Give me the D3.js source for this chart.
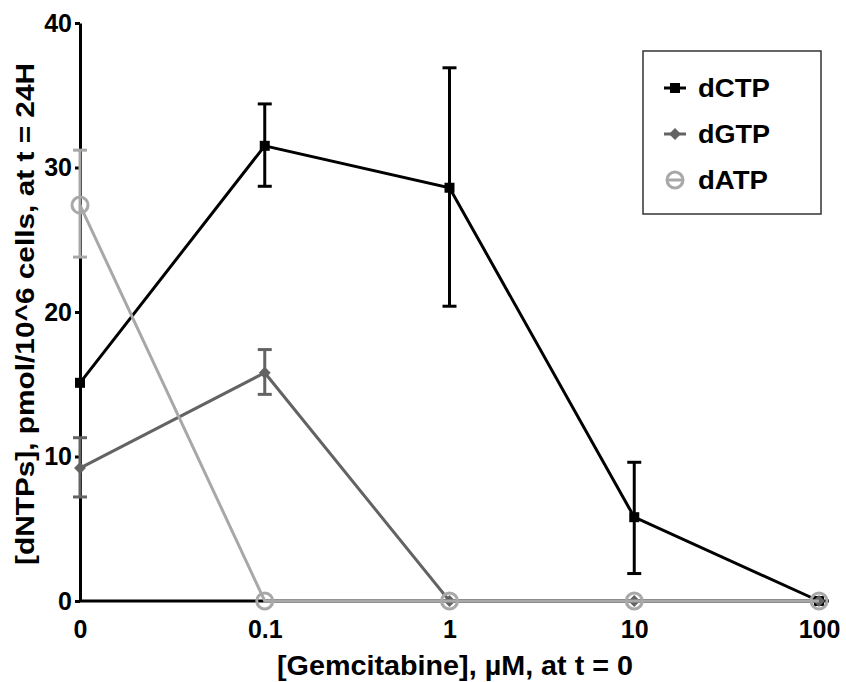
<!DOCTYPE html>
<html>
<head>
<meta charset="utf-8">
<script src="https://cdn.jsdelivr.net/npm/d3@7"></script>
<style>
  body { margin: 0; background: #fff; }
  text { font-family: "Liberation Sans", Arial, sans-serif; font-weight: bold; }
</style>
</head>
<body>
<svg id="chart" width="846" height="682"></svg>
<script>
// gemcitabine dose (category labels on the x axis)
const doses = ['0', '0.1', '1', '10', '100'];
const yTicks = [0, 10, 20, 30, 40];

// dNTP pools at t = 24H, pmol / 10^6 cells
const dCTP = [15.1, 31.5, 28.6, 5.8, 0];
const dCTPLow = [null, 28.7, 20.4, 1.9, null];
const dCTPHigh = [null, 34.4, 36.9, 9.6, null];

const dGTP = [9.2, 15.8, 0, 0, 0];
const dGTPLow = [7.2, 14.3, null, null, null];
const dGTPHigh = [11.3, 17.4, null, null, null];

const dATP = [27.4, 0, 0, 0, 0];
const dATPLow = [23.8, null, null, null, null];
const dATPHigh = [31.2, null, null, null, null];

const seriesNames = ['dCTP', 'dGTP', 'dATP'];
const seriesColors = ['#000000', '#636363', '#a8a8a8'];
const seriesShapes = ['square', 'diamond', 'circle'];

const svg = d3.select('#chart');

const x = d3.scalePoint()
    .domain(doses)
    .range([80, 819]);
const y = d3.scaleLinear()
    .domain([0, 40])
    .range([601, 23]);

// y axis
const yAxis = svg.append('g')
    .attr('transform', `translate(${x('0')},0)`)
    .call(d3.axisLeft(y).tickValues(yTicks).tickSize(5).tickSizeOuter(0).tickPadding(3));
yAxis.select('.domain').attr('stroke', '#000').attr('stroke-width', 3);
yAxis.selectAll('.tick line').attr('stroke', '#000').attr('stroke-width', 3);
yAxis.selectAll('.tick text')
    .attr('font-size', 25)
    .attr('font-family', '"Liberation Sans", Arial, sans-serif')
    .attr('font-weight', 'bold')
    .attr('fill', '#000');

// x axis
const xAxis = svg.append('g')
    .attr('transform', `translate(0,${y(0)})`)
    .call(d3.axisBottom(x).tickSize(0).tickPadding(19));
xAxis.select('.domain').remove();
xAxis.append('line')
    .attr('x1', x('0'))
    .attr('x2', x('100') + 10)
    .attr('stroke', '#000')
    .attr('stroke-width', 3);
xAxis.selectAll('.tick text')
    .attr('font-size', 25)
    .attr('font-family', '"Liberation Sans", Arial, sans-serif')
    .attr('font-weight', 'bold')
    .attr('fill', '#000');

// axis titles
svg.append('text')
    .attr('x', 455)
    .attr('y', 675)
    .attr('text-anchor', 'middle')
    .attr('font-size', 27)
    .attr('textLength', 356)
    .attr('lengthAdjust', 'spacingAndGlyphs')
    .text('[Gemcitabine], \u00b5M, at t = 0');

svg.append('text')
    .attr('transform', 'translate(34,314) rotate(-90)')
    .attr('text-anchor', 'middle')
    .attr('font-size', 25)
    .attr('textLength', 502)
    .attr('lengthAdjust', 'spacingAndGlyphs')
    .text('[dNTPs], pmol/10^6 cells, at t = 24H');

const series = [
    { name: 'dCTP', values: dCTP, low: dCTPLow, high: dCTPHigh },
    { name: 'dGTP', values: dGTP, low: dGTPLow, high: dGTPHigh },
    { name: 'dATP', values: dATP, low: dATPLow, high: dATPHigh }
];

const line = d3.line()
    .x((d, i) => x(doses[i]))
    .y(d => y(d));

function drawMarker(g, shape, color) {
    if (shape === 'square') {
        g.append('rect')
            .attr('x', -5).attr('y', -5)
            .attr('width', 10).attr('height', 10)
            .attr('fill', color);
    } else if (shape === 'diamond') {
        g.append('path')
            .attr('d', d3.symbol(d3.symbolDiamond2, 90)())
            .attr('fill', color);
    } else {
        g.append('circle')
            .attr('r', 8)
            .attr('fill', 'none')
            .attr('stroke', color)
            .attr('stroke-width', 3);
    }
}

series.forEach((s, si) => {
    const color = seriesColors[si];
    const g = svg.append('g').attr('class', 'series-' + s.name);

    // error bars
    const err = s.values.map((v, i) => ({ i: i, lo: s.low[i], hi: s.high[i] }))
        .filter(d => d.lo !== null);
    g.selectAll('.err')
        .data(err)
        .enter()
        .append('line')
        .attr('x1', d => x(doses[d.i]))
        .attr('x2', d => x(doses[d.i]))
        .attr('y1', d => y(d.lo))
        .attr('y2', d => y(d.hi))
        .attr('stroke', color)
        .attr('stroke-width', 3);
    ['lo', 'hi'].forEach(k => {
        g.selectAll('.cap-' + k)
            .data(err)
            .enter()
            .append('line')
            .attr('x1', d => x(doses[d.i]) - 7)
            .attr('x2', d => x(doses[d.i]) + 7)
            .attr('y1', d => y(d[k]))
            .attr('y2', d => y(d[k]))
            .attr('stroke', color)
            .attr('stroke-width', 3);
    });

    g.append('path')
        .datum(s.values)
        .attr('d', line)
        .attr('fill', 'none')
        .attr('stroke', color)
        .attr('stroke-width', 3);

    g.selectAll('.pt')
        .data(s.values)
        .enter()
        .append('g')
        .attr('transform', (d, i) => `translate(${x(doses[i])},${y(d)})`)
        .each(function () {
            drawMarker(d3.select(this), seriesShapes[si], color);
        });
});

// legend
const legend = svg.append('g').attr('transform', 'translate(643,51)');
legend.append('rect')
    .attr('width', 178)
    .attr('height', 163)
    .attr('fill', '#fff')
    .attr('stroke', '#333')
    .attr('stroke-width', 1.5);

const legendY = d3.scalePoint().domain(seriesNames).range([37, 129]);
seriesNames.forEach((name, si) => {
    const row = legend.append('g')
        .attr('transform', `translate(32,${legendY(name)})`);
    if (seriesShapes[si] !== 'circle') {
        row.append('line')
            .attr('x1', -11).attr('x2', 11)
            .attr('stroke', seriesColors[si])
            .attr('stroke-width', 3);
    } else {
        row.append('line')
            .attr('x1', -8).attr('x2', 8)
            .attr('stroke', seriesColors[si])
            .attr('stroke-width', 3);
    }
    drawMarker(row, seriesShapes[si], seriesColors[si]);
    row.append('text')
        .attr('x', 23)
        .attr('y', 9)
        .attr('font-size', 25)
        .attr('textLength', name === 'dATP' ? 70 : 72)
        .attr('lengthAdjust', 'spacingAndGlyphs')
        .text(name);
});
</script>
</body>
</html>
